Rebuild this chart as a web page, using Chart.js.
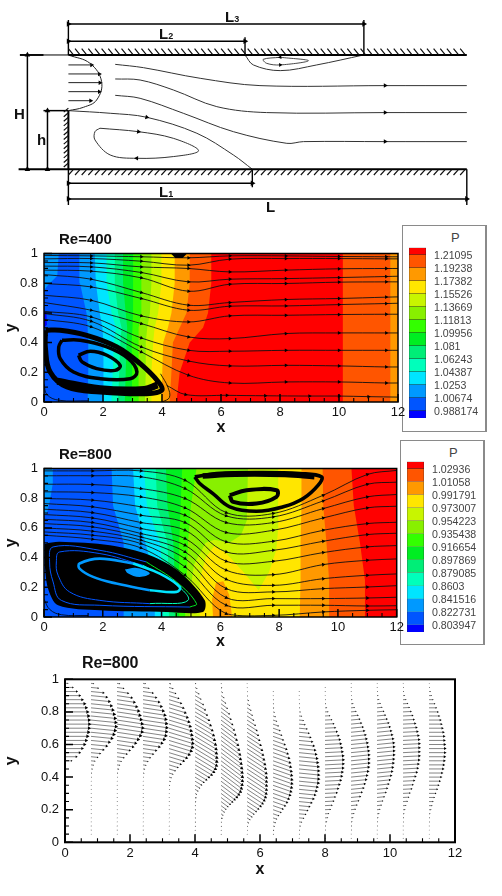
<!DOCTYPE html>
<html>
<head>
<meta charset="utf-8">
<title>Step channel flow</title>
<script src="https://cdn.jsdelivr.net/npm/chart.js@4"></script>
<style>
  html, body { margin: 0; background: #fff; }
  body { position: relative; width: 502px; height: 896px; overflow: hidden; font-family: "Liberation Sans", Arial, sans-serif; }
  canvas { position: absolute; }
  .lab { position: absolute; font-weight: bold; color: #111; line-height: 1; white-space: nowrap; }
  .lab sub { font-size: 60%; vertical-align: -20%; line-height: 0; }
  .panel { position: absolute; box-sizing: border-box; border: 1px solid #8a8a8a; border-right-width: 2px; background: #fff; }
  .ptitle { position: absolute; font-size: 13px; color: #444; line-height: 1; }
</style>
</head>
<body>

<canvas id="sketch" width="502" height="215" style="left:0;top:0"></canvas>
<div class="lab" style="left:225px;top:9px;font-size:15px">L<sub>3</sub></div>
<div class="lab" style="left:159px;top:26px;font-size:15px">L<sub>2</sub></div>
<div class="lab" style="left:159px;top:184px;font-size:15px">L<sub>1</sub></div>
<div class="lab" style="left:266px;top:199px;font-size:15px">L</div>
<div class="lab" style="left:14px;top:106px;font-size:15px">H</div>
<div class="lab" style="left:37px;top:132px;font-size:15px">h</div>

<div class="panel" style="left:402px;top:225px;width:85px;height:207px"></div>
<div class="ptitle" style="left:451px;top:231px">P</div>
<canvas id="legend400" width="76" height="182" style="left:409px;top:243px"></canvas>
<div class="lab" style="left:59px;top:231px;font-size:15px">Re=400</div>
<canvas id="plot400" width="412" height="193" style="left:0;top:244px"></canvas>

<div class="panel" style="left:400px;top:440px;width:85px;height:205px"></div>
<div class="ptitle" style="left:449px;top:446px">P</div>
<canvas id="legend800" width="76" height="180" style="left:407px;top:457px"></canvas>
<div class="lab" style="left:59px;top:446px;font-size:15px">Re=800</div>
<canvas id="plot800" width="412" height="192" style="left:0;top:459px"></canvas>

<div class="lab" style="left:82px;top:655px;font-size:16px">Re=800</div>
<canvas id="vectors" width="480" height="209" style="left:0;top:670px"></canvas>

<script>
// ---------- colour legend ----------
const bandColors = ["#ff0000", "#ff5500", "#ff9900", "#ffe600", "#c8f500", "#88f000", "#33ff00",
  "#00ee22", "#00ee77", "#00ffbb", "#00e5ff", "#0099ff", "#0055ff", "#0000ff"];
const levels400 = [1.21095, 1.19238, 1.17382, 1.15526, 1.13669, 1.11813, 1.09956, 1.081, 1.06243, 1.04387, 1.0253, 1.00674, 0.988174];
const levels800 = [1.02936, 1.01058, 0.991791, 0.973007, 0.954223, 0.935438, 0.916654, 0.897869, 0.879085, 0.8603, 0.841516, 0.822731, 0.803947];
const range400 = [0.9774, 1.2205];
const range800 = [0.7934, 1.0391];

// ---------- shared axis ticks ----------
const xMajor = [0, 2, 4, 6, 8, 10, 12];
const xMinor = [0.5, 1, 1.5, 2.5, 3, 3.5, 4.5, 5, 5.5, 6.5, 7, 7.5, 8.5, 9, 9.5, 10.5, 11, 11.5];
const yMajor = [0, 0.2, 0.4, 0.6, 0.8, 1];
const yMinor = [0.05, 0.1, 0.15, 0.25, 0.3, 0.35, 0.45, 0.5, 0.55, 0.65, 0.7, 0.75, 0.85, 0.9, 0.95];

// ---------- Re=400 pressure bands: x of each band edge at these y ----------
const edgeY400 = [0, 0.2, 0.4, 0.5, 0.6, 0.8, 1];
const edges400 = [
  [12, 12, 12, 12, 12, 12, 12],
  [11.74, 11.74, 11.74, 11.74, 11.74, 11.74, 11.74],
  [10.13, 10.13, 10.13, 10.13, 10.13, 10.13, 10.13],
  [4.49, 4.6, 4.94, 5.39, 5.56, 5.67, 5.67],
  [4.26, 4.32, 4.37, 4.6, 4.83, 4.94, 4.94],
  [3.98, 4.01, 4.04, 4.2, 4.32, 4.43, 4.43],
  [3.64, 3.64, 3.7, 3.75, 3.87, 3.98, 3.98],
  [3.42, 3.45, 3.45, 3.5, 3.59, 3.64, 3.64],
  [3.19, 3.21, 3.19, 3.22, 3.3, 3.3, 3.3],
  [2.97, 2.99, 2.97, 3.0, 3.02, 3.02, 3.02],
  [2.74, 2.77, 2.8, 2.82, 2.77, 2.68, 2.68],
  [2.51, 2.55, 2.59, 2.63, 2.51, 2.4, 2.4],
  [2.29, 2.33, 2.37, 2.44, 2.29, 2.12, 2.12],
  [2.0, 2.03, 2.0, 1.98, 1.89, 1.76, 1.72],
  [1.48, 1.5, 1.5, 1.48, 1.44, 1.22, 1.2]
];
const edgeColorIdx400 = [2, 1, 0, 1, 2, 3, 4, 5, 6, 7, 8, 9, 10, 11, 12];
const skyPatch400 = [[0, 1], [0.5, 1], [0.45, 0.85], [0.1, 0.78], [0, 0.75]];
const deepPatch400 = [[0, 0.62], [0.08, 0.6], [0.1, 0.52], [0, 0.5]];
const blackSpot400 = [[4.3, 1], [4.85, 1], [4.7, 0.97], [4.45, 0.97]];

// Re=400 streamlines, y at these x stations
const stations400 = [0, 1.6, 3.3, 4.9, 6.3, 8.2, 10, 11.6, 12];
const lines400 = [
  [0.987, 0.984, 0.978, 0.971, 0.984, 0.984, 0.98, 0.978, 0.978],
  [0.964, 0.966, 0.948, 0.921, 0.962, 0.966, 0.966, 0.964, 0.964],
  [0.939, 0.937, 0.91, 0.899, 0.876, 0.888, 0.897, 0.899, 0.899],
  [0.915, 0.91, 0.872, 0.809, 0.827, 0.831, 0.838, 0.845, 0.847],
  [0.888, 0.881, 0.836, 0.746, 0.793, 0.798, 0.807, 0.809, 0.809],
  [0.858, 0.827, 0.737, 0.652, 0.67, 0.69, 0.697, 0.706, 0.708],
  [0.798, 0.775, 0.697, 0.618, 0.645, 0.647, 0.656, 0.663, 0.665],
  [0.719, 0.685, 0.58, 0.539, 0.58, 0.584, 0.589, 0.591, 0.591],
  [0.67, 0.618, 0.528, 0.438, 0.427, 0.461, 0.465, 0.465, 0.465],
  [0.611, 0.573, 0.431, 0.348, 0.342, 0.348, 0.348, 0.348, 0.348],
  [0.596, 0.544, 0.371, 0.276, 0.243, 0.247, 0.243, 0.236, 0.236],
  [0.557, 0.506, 0.337, 0.18, 0.128, 0.135, 0.135, 0.128, 0.128]
];
const floorLine400 = [[4.16, 0.112], [4.8, 0.05], [6.2, 0.045], [7.5, 0.042], [9, 0.04], [10, 0.04], [11, 0.036], [12, 0.033]];
const cornerLine400 = [[0, 0.12], [0.1, 0.05], [0.5, 0.012], [1.5, 0.008]];
const reattach400 = [[4, 0], [4.25, 0.03], [4.2, 0.1], [3.95, 0.19]];
const vortexOuter400 = [[0.05, 0.483], [0.55, 0.483], [1.45, 0.449], [2.47, 0.371], [3.26, 0.258], [3.88, 0.135], [3.99, 0.079], [3.48, 0.056], [1.91, 0.067], [0.78, 0.101], [0.21, 0.202], [0.05, 0.36]];
const vortexFloor400 = [[0.45, 0.14], [1.9, 0.09], [3.4, 0.085], [3.85, 0.115]];
const vortexMid400 = [[0.61, 0.416], [1.23, 0.416], [2.13, 0.371], [2.86, 0.292], [3.15, 0.202], [2.92, 0.157], [1.91, 0.157], [1.0, 0.202], [0.55, 0.292], [0.5, 0.371]];
const vortexInner400 = [[1.17, 0.315], [1.57, 0.342], [2.13, 0.315], [2.58, 0.247], [2.41, 0.213], [1.79, 0.225], [1.29, 0.27]];

// ---------- Re=800 pressure bands ----------
const edgeY800 = [0, 0.25, 0.5, 0.75, 1];
const rightEdges800 = [
  [12, 12, 12, 12, 12],
  [10.92, 10.92, 10.75, 10.54, 10.46],
  [9.73, 9.7, 9.61, 9.5, 9.48],
  [8.7, 8.73, 8.73, 8.76, 8.76]
];
const rightColorIdx800 = [0, 1, 2, 3];
const orangePatch800 = [[5.75, 0], [5.72, 0.12], [5.85, 0.23], [6.1, 0.24], [6.3, 0.15], [6.4, 0]];
const yellowGreenLobe800 = [[7.97, 1], [7.97, 0.6], [7.9, 0.45], [7.65, 0.3], [7.3, 0.18], [6.8, 0.3], [6.2, 0.43], [5.8, 0.48], [5.5, 0.4], [5.3, 0.25], [5.3, 0], [0, 0], [0, 1]];
const lightGreenLobe800 = [[6.94, 1], [6.9, 0.65], [6.7, 0.55], [6.3, 0.5], [5.8, 0.52], [5.5, 0.5], [5.1, 0.35], [5, 0.2], [4.95, 0], [0, 0], [0, 1]];
const leftEdges800 = [
  [4.8, 4.85, 4.9, 5.0, 5.19],
  [4.6, 4.6, 4.6, 4.65, 4.7],
  [4.45, 4.45, 4.4, 4.2, 4.15],
  [4.25, 4.25, 4.2, 3.85, 3.8],
  [4.05, 4.05, 3.95, 3.5, 3.4],
  [3.77, 3.77, 3.45, 3.1, 3.03],
  [2.69, 2.7, 2.72, 2.35, 2.3]
];
const leftColorIdx800 = [6, 7, 8, 9, 10, 11, 12];
const skyPatch800 = [[0, 1], [0.3, 1], [0.3, 0.9], [0.2, 0.78], [0.1, 0.7], [0, 0.68]];

// Re=800 streamlines
const stations800 = [0, 1.65, 3.3, 4.8, 6.2, 7.8, 9.5, 11, 12];
const lines800 = [
  [0.984, 0.984, 0.984, 0.921, 0.703, 0.697, 0.82, 0.96, 0.987],
  [0.951, 0.951, 0.944, 0.865, 0.681, 0.674, 0.782, 0.894, 0.908],
  [0.894, 0.892, 0.865, 0.798, 0.636, 0.636, 0.73, 0.809, 0.825],
  [0.843, 0.838, 0.809, 0.735, 0.569, 0.584, 0.667, 0.735, 0.746],
  [0.798, 0.787, 0.742, 0.685, 0.506, 0.51, 0.584, 0.629, 0.638],
  [0.764, 0.742, 0.685, 0.636, 0.438, 0.449, 0.51, 0.555, 0.564],
  [0.726, 0.703, 0.636, 0.584, 0.375, 0.375, 0.434, 0.472, 0.481],
  [0.69, 0.667, 0.596, 0.528, 0.315, 0.285, 0.353, 0.382, 0.391],
  [0.658, 0.636, 0.562, 0.483, 0.254, 0.213, 0.258, 0.281, 0.29],
  [0.629, 0.607, 0.539, 0.438, 0.191, 0.169, 0.191, 0.202, 0.211],
  [0.6, 0.578, 0.517, 0.393, 0.13, 0.124, 0.124, 0.128, 0.133],
  [0.573, 0.551, 0.494, 0.337, 0.079, 0.079, 0.079, 0.074, 0.076],
  [0.551, 0.524, 0.465, 0.281, 0.022, 0.011, 0.034, 0.045, 0.049]
];
const cornerLine800 = [[0, 0.12], [0.2, 0.05], [0.6, 0.015], [1.5, 0.01]];
const lowerBlob800 = [[0.02, 0.494], [0.53, 0.506], [2.24, 0.483], [3.6, 0.416], [4.62, 0.303], [5.47, 0.112], [5.41, 0.034], [4.17, 0.034], [1.9, 0.045], [0.48, 0.079], [0.14, 0.191], [0.02, 0.371]];
const ringALeft800 = [[4.96, 0.067], [1.9, 0.079], [0.59, 0.112], [0.31, 0.236], [0.19, 0.371], [0.31, 0.472], [1.9, 0.449], [3.48, 0.371]];
const ringARight800 = [[3.48, 0.371], [4.51, 0.236], [5.19, 0.09], [4.96, 0.067]];
const ringBLeft800 = [[3.6, 0.09], [1.9, 0.112], [0.87, 0.169], [0.48, 0.281], [0.42, 0.371], [0.53, 0.438], [1.9, 0.427], [3.37, 0.348]];
const ringBRight800 = [[3.37, 0.348], [4.39, 0.236], [4.9, 0.112], [3.6, 0.09]];
const ringCLeft800 = [[3.6, 0.18], [2.46, 0.225], [1.67, 0.27], [1.21, 0.326], [1.21, 0.36], [1.9, 0.393], [3.03, 0.36]];
const ringCRight800 = [[3.03, 0.36], [3.94, 0.292], [4.62, 0.202], [4.51, 0.169], [3.6, 0.18]];
const lowerCore800 = [[2.75, 0.32], [3.15, 0.33], [3.6, 0.295], [3.25, 0.27], [2.85, 0.295]];
const upperOuter800 = [[5.13, 0.944], [5.87, 0.966], [7.34, 0.973], [8.71, 0.966], [9.44, 0.944], [9.33, 0.888], [8.82, 0.798], [8.14, 0.742], [7.23, 0.712], [6.32, 0.742], [5.75, 0.831], [5.3, 0.899]];
const upperTop800 = [[5.4, 0.95], [6.5, 0.962], [8.2, 0.96], [9.2, 0.945]];
const upperInner800 = [[6.32, 0.82], [6.89, 0.854], [7.91, 0.854], [7.91, 0.809], [7.23, 0.764], [6.44, 0.775]];

// ---------- Re=800 velocity profiles ----------
const profileX = [0, 0.8, 1.6, 2.4, 3.2, 4, 4.8, 5.6, 6.4, 7.2, 8, 8.8, 9.6, 10.4, 11.2];
const profileRows = [0.975, 0.95, 0.925, 0.9, 0.875, 0.85, 0.825, 0.8, 0.775, 0.75, 0.725, 0.7, 0.675, 0.65, 0.625, 0.6, 0.575, 0.55, 0.525, 0.5,
  0.475, 0.45, 0.425, 0.4, 0.375, 0.35, 0.325, 0.3, 0.275, 0.25, 0.225, 0.2, 0.175, 0.15, 0.125, 0.1, 0.075, 0.05, 0.025];
const profileU = [
  [0.09, 0.24, 0.36, 0.45, 0.53, 0.6, 0.65, 0.69, 0.72, 0.74, 0.75, 0.74, 0.72, 0.69, 0.65, 0.6, 0.53, 0.45, 0.35, 0.2],
  [0.08, 0.22, 0.38, 0.48, 0.56, 0.62, 0.67, 0.71, 0.74, 0.76, 0.77, 0.74, 0.7, 0.64, 0.56, 0.48, 0.38, 0.28, 0.2, 0.12, 0.07, 0.04, 0.02, 0.01, 0.005, 0.005, 0.005, 0.005, 0.005, 0.005, 0.005, 0.005, 0.005, 0.005, 0.005, 0.005, 0.005, 0.005],
  [0.08, 0.2, 0.34, 0.45, 0.53, 0.6, 0.66, 0.7, 0.74, 0.77, 0.79, 0.77, 0.72, 0.65, 0.57, 0.49, 0.39, 0.3, 0.21, 0.13, 0.08, 0.05, 0.02, 0.01, 0.005, 0.005, 0.005, 0.005, 0.005, 0.005, 0.005, 0.005, 0.005, 0.005, 0.005, 0.005, 0.005, 0.005],
  [0.07, 0.18, 0.3, 0.4, 0.49, 0.56, 0.62, 0.67, 0.7, 0.72, 0.73, 0.72, 0.7, 0.65, 0.58, 0.5, 0.4, 0.31, 0.22, 0.15, 0.09, 0.05, 0.03, 0.01, 0.005, 0.005, 0.005, 0.005, 0.005, 0.005, 0.005, 0.005, 0.005, 0.005, 0.005, 0.005, 0.005, 0.005],
  [0.05, 0.12, 0.2, 0.29, 0.37, 0.44, 0.5, 0.56, 0.61, 0.65, 0.68, 0.7, 0.72, 0.73, 0.72, 0.68, 0.62, 0.54, 0.45, 0.36, 0.27, 0.19, 0.12, 0.07, 0.04, 0.02, 0.01, 0.005, 0.005, 0.005, 0.005, 0.005, 0.005, 0.005, 0.005, 0.005, 0.005, 0.005],
  [0.02, 0.06, 0.12, 0.18, 0.25, 0.31, 0.37, 0.43, 0.48, 0.53, 0.57, 0.6, 0.63, 0.65, 0.66, 0.67, 0.67, 0.66, 0.63, 0.58, 0.51, 0.43, 0.35, 0.27, 0.2, 0.14, 0.09, 0.05, 0.03, 0.02, 0.01, 0.01, 0.01, 0.01, 0.01, 0.01, 0.005, 0.005],
  [0.005, 0.02, 0.05, 0.09, 0.14, 0.19, 0.25, 0.3, 0.35, 0.4, 0.44, 0.48, 0.52, 0.55, 0.58, 0.6, 0.62, 0.64, 0.65, 0.66, 0.66, 0.65, 0.63, 0.6, 0.55, 0.49, 0.42, 0.35, 0.28, 0.21, 0.15, 0.1, 0.06, 0.03, 0.01, 0.01, 0.005, 0.005],
  [0.002, 0.005, 0.01, 0.02, 0.05, 0.08, 0.12, 0.16, 0.2, 0.25, 0.3, 0.34, 0.38, 0.42, 0.46, 0.49, 0.52, 0.55, 0.57, 0.59, 0.6, 0.6, 0.6, 0.6, 0.59, 0.57, 0.53, 0.48, 0.42, 0.35, 0.28, 0.21, 0.15, 0.09, 0.05, 0.02, 0.01, 0.005],
  [0, 0, 0.005, 0.005, 0.01, 0.01, 0.02, 0.04, 0.07, 0.11, 0.16, 0.21, 0.26, 0.31, 0.36, 0.41, 0.45, 0.49, 0.52, 0.54, 0.56, 0.57, 0.58, 0.58, 0.57, 0.55, 0.52, 0.48, 0.43, 0.37, 0.3, 0.24, 0.17, 0.11, 0.07, 0.04, 0.02, 0.01],
  [0, 0, 0.005, 0.005, 0.005, 0.01, 0.02, 0.04, 0.08, 0.13, 0.18, 0.24, 0.3, 0.35, 0.4, 0.45, 0.49, 0.52, 0.55, 0.57, 0.59, 0.6, 0.6, 0.6, 0.59, 0.56, 0.53, 0.49, 0.44, 0.38, 0.32, 0.26, 0.2, 0.14, 0.08, 0.04, 0.02, 0.01, 0.005],
  [0, 0.005, 0.005, 0.005, 0.01, 0.02, 0.05, 0.09, 0.14, 0.2, 0.26, 0.31, 0.36, 0.41, 0.45, 0.48, 0.51, 0.53, 0.55, 0.56, 0.56, 0.55, 0.53, 0.51, 0.48, 0.44, 0.4, 0.36, 0.31, 0.26, 0.21, 0.16, 0.11, 0.08, 0.05, 0.02, 0.01, 0.005, 0.005],
  [0.005, 0.005, 0.005, 0.01, 0.03, 0.06, 0.1, 0.15, 0.21, 0.26, 0.31, 0.36, 0.4, 0.44, 0.47, 0.5, 0.52, 0.54, 0.55, 0.55, 0.55, 0.54, 0.52, 0.49, 0.46, 0.42, 0.38, 0.33, 0.28, 0.23, 0.18, 0.13, 0.09, 0.06, 0.03, 0.02, 0.01, 0.005, 0.005],
  [0.005, 0.005, 0.01, 0.03, 0.06, 0.1, 0.15, 0.2, 0.25, 0.3, 0.35, 0.39, 0.43, 0.46, 0.49, 0.51, 0.52, 0.52, 0.52, 0.51, 0.5, 0.48, 0.46, 0.43, 0.39, 0.35, 0.31, 0.27, 0.22, 0.17, 0.13, 0.09, 0.06, 0.03, 0.02, 0.01, 0.005, 0.005, 0.005],
  [0.005, 0.01, 0.02, 0.05, 0.09, 0.14, 0.19, 0.24, 0.29, 0.33, 0.37, 0.41, 0.44, 0.47, 0.49, 0.5, 0.5, 0.5, 0.5, 0.49, 0.47, 0.45, 0.42, 0.38, 0.34, 0.3, 0.26, 0.21, 0.17, 0.13, 0.09, 0.06, 0.03, 0.02, 0.01, 0.005, 0.005, 0.005, 0.005],
  [0.005, 0.01, 0.04, 0.07, 0.12, 0.17, 0.22, 0.27, 0.31, 0.35, 0.38, 0.41, 0.44, 0.46, 0.47, 0.48, 0.49, 0.49, 0.48, 0.47, 0.45, 0.43, 0.4, 0.37, 0.33, 0.29, 0.25, 0.2, 0.16, 0.12, 0.09, 0.06, 0.03, 0.02, 0.01, 0.005, 0.005, 0.005, 0.005]
];
const profileSlope = [0, 0.02, 0.03, 0.03, 0.06, 0.12, 0.15, 0.13, 0.07, 0.02, -0.01, -0.02, -0.02, -0.01, 0];

// ---------- channel sketch, x along the channel with L = 12 and H = 1 ----------
const wallTop = [[0, 1], [12, 1]];
const wallInletTop = [[-1.46, 1], [0, 1]];
const wallInletTopThick = [[-1.46, 1], [-0.75, 1]];
const wallBottom = [[-1.5, 0], [12, 0]];
const wallStep = [[0, 0.513], [0, 0]];
const wallStepTop = [[-0.75, 0.513], [0, 0.513]];
const inletProfile = [[0, 1], [0.65, 0.927], [1.0, 0.767], [0.85, 0.606], [0.45, 0.542], [0, 0.513]];
const inletArrowY = [0.913, 0.834, 0.758, 0.679, 0.6];
const inletArrowU = [0.7, 0.93, 0.95, 0.93, 0.67];
const sketchLine1 = [[1.41, 0.918], [2.26, 0.889], [3.97, 0.796], [5.77, 0.732], [9.54, 0.732], [12, 0.732]];
const sketchLine2 = [[1.41, 0.79], [2.16, 0.781], [3.16, 0.694], [4.47, 0.548], [5.97, 0.496], [9.54, 0.496], [12, 0.496]];
const sketchLine3 = [[1.41, 0.647], [2.16, 0.621], [3.46, 0.49], [4.97, 0.329], [6.58, 0.227], [7.08, 0.242], [9.54, 0.242], [12, 0.242]];
const sketchSep = [[0, 0.513], [1.26, 0.49], [2.36, 0.455], [3.87, 0.315], [4.97, 0.125], [5.54, 0]];
const sketchLoop = [[0.95, 0.359], [2.11, 0.329], [3.16, 0.271], [3.92, 0.163], [3.16, 0.111], [2.06, 0.096], [1.26, 0.125], [0.8, 0.257], [0.8, 0.329], [0.95, 0.359]];
const sketchUpperSep = [[5.32, 1], [5.57, 0.913], [6.38, 0.863], [7.48, 0.913], [8.89, 1]];
const sketchUpperLoop = [[6.38, 0.98], [5.87, 0.962], [5.97, 0.927], [6.38, 0.913], [7.23, 0.95], [6.38, 0.98]];
const dimL1 = [[0, -0.122], [5.54, -0.122]];
const dimL2 = [[0, 1.12], [5.32, 1.12]];
const dimL3 = [[0, 1.271], [8.9, 1.271]];
const dimL = [[0, -0.259], [12, -0.259]];
const dimH = [[-1.235, 0], [-1.235, 1]];
const dimh = [[-0.63, 0], [-0.63, 0.513]];
const extensions = [
  [[0, 1.306], [0, 1]], [[8.9, 1.306], [8.9, 1]], [[5.32, 1.155], [5.32, 1]],
  [[5.54, 0], [5.54, -0.157]], [[0, 0], [0, -0.312]], [[12, 0], [12, -0.312]]
];

// ---------- helpers ----------
const toPts = arr => arr.map(p => ({ x: p[0], y: p[1] }));
const closed = arr => toPts(arr.concat([arr[0]]));

// Chart.js pads the chart area for the first and last tick label even with autoPadding off
function noScalePadding(s) {
  s.paddingTop = 0;
  s.paddingBottom = 0;
  s.paddingLeft = 0;
  s.paddingRight = 0;
}

function arrowAngle(ctx) {
  const d = ctx.dataset.data, i = ctx.dataIndex;
  const ok = p => p && Number.isFinite(p.x);
  const a = ok(d[i - 1]) ? d[i - 1] : d[i];
  const b = ok(d[i + 1]) ? d[i + 1] : d[i];
  const sx = ctx.chart.scales.x, sy = ctx.chart.scales.y;
  if (!a || !b) return 0;
  const dx = sx.getPixelForValue(b.x) - sx.getPixelForValue(a.x);
  const dy = sy.getPixelForValue(b.y) - sy.getPixelForValue(a.y);
  return Math.atan2(dx, -dy) * 180 / Math.PI;
}

function shape(points, color) {
  return { data: points, showLine: true, fill: "shape", backgroundColor: color, borderWidth: 0, pointRadius: 0 };
}
function leftOfEdge(xs, ys, color) {
  const pts = ys.map((y, i) => ({ x: xs[i], y: y }));
  pts.push({ x: 0, y: 1 }, { x: 0, y: 0 });
  return shape(pts, color);
}
function stroke(points, width, color, tension) {
  return { data: points, showLine: true, borderColor: color || "#000", borderWidth: width, tension: tension === undefined ? 0.4 : tension, pointRadius: 0, fill: false };
}
// a curve with an arrowhead on the vertices given by arrowAt (all inner ones when omitted)
function arrowed(points, width, size, arrowAt, color) {
  const last = points.length - 1;
  return {
    data: points, showLine: true, borderColor: color || "#111", borderWidth: width, tension: 0.35, fill: false,
    pointStyle: "triangle", pointBackgroundColor: "#000", pointBorderWidth: 0,
    pointRotation: arrowAngle,
    pointRadius: ctx => {
      if (arrowAt) return arrowAt.includes(ctx.dataIndex) ? size : 0;
      return ctx.dataIndex > 0 && ctx.dataIndex < last ? size : 0;
    }
  };
}
function streamline(xs, ys) {
  return arrowed(ys.map((y, i) => ({ x: xs[i], y: y })), 0.9, 2.2);
}

// frame and inward Tecplot style ticks, placed through the scales
const frameTicks = {
  id: "frameTicks",
  afterDatasetsDraw(chart, args, opts) {
    const c = chart.ctx, a = chart.chartArea, sx = chart.scales.x, sy = chart.scales.y;
    c.save();
    c.strokeStyle = "#000";
    c.lineWidth = 1.1;
    c.beginPath();
    xMinor.forEach(v => { const p = sx.getPixelForValue(v); c.moveTo(p, a.bottom); c.lineTo(p, a.bottom - 4); });
    yMinor.forEach(v => { const p = sy.getPixelForValue(v); c.moveTo(a.left, p); c.lineTo(a.left + 4, p); });
    c.stroke();
    c.lineWidth = 1.5;
    c.beginPath();
    xMajor.forEach(v => { const p = sx.getPixelForValue(v); c.moveTo(p, a.bottom); c.lineTo(p, a.bottom - 8); });
    yMajor.forEach(v => { const p = sy.getPixelForValue(v); c.moveTo(a.left, p); c.lineTo(a.left + 8, p); });
    c.stroke();
    c.lineWidth = opts.width;
    c.strokeRect(a.left, a.top, a.right - a.left, a.bottom - a.top);
    c.restore();
  }
};

function plotOptions(left, bottom, top, right, frameWidth) {
  const tickFont = { family: "'Liberation Sans'", size: 13 };
  const axisFont = { family: "'Liberation Sans'", size: 16, weight: "bold" };
  return {
    responsive: false, animation: false, events: [],
    layout: { autoPadding: false, padding: { top: top, right: right, left: 0, bottom: 0 } },
    plugins: { legend: { display: false }, tooltip: { enabled: false }, frameTicks: { width: frameWidth } },
    scales: {
      x: {
        type: "linear", min: 0, max: 12,
        afterFit: s => { s.height = bottom; noScalePadding(s); },
        grid: { display: false, drawTicks: false }, border: { display: false },
        ticks: { stepSize: 2, font: tickFont, color: "#111", padding: 3, maxRotation: 0 },
        title: { display: true, text: "x", font: axisFont, color: "#111", padding: 0 }
      },
      y: {
        type: "linear", min: 0, max: 1,
        afterFit: s => { s.width = left; noScalePadding(s); },
        grid: { display: false, drawTicks: false }, border: { display: false },
        ticks: { stepSize: 0.2, font: tickFont, color: "#111", padding: 6, callback: v => String(+v.toFixed(1)) },
        title: { display: true, text: "y", font: axisFont, color: "#111", padding: { top: 2, bottom: 0 } }
      }
    }
  };
}

function drawPlot(id, datasets, opts) {
  // dataset 0 is drawn last by Chart.js, so flip the paint order
  new Chart(document.getElementById(id), {
    type: "scatter",
    data: { datasets: datasets.slice().reverse() },
    options: opts,
    plugins: [frameTicks]
  });
}

function drawLegend(id, levels, range, top, bottom) {
  const edges = [range[1]].concat(levels, [range[0]]);
  new Chart(document.getElementById(id), {
    type: "bar",
    data: {
      labels: ["P"],
      datasets: bandColors.map((color, i) => ({
        data: [[edges[i + 1], edges[i]]],
        backgroundColor: color, borderColor: "#222", borderWidth: 0.6,
        grouped: false, barPercentage: 1, categoryPercentage: 1
      }))
    },
    options: {
      responsive: false, animation: false, events: [],
      layout: { autoPadding: false, padding: { top: top, bottom: bottom } },
      plugins: { legend: { display: false }, tooltip: { enabled: false } },
      scales: {
        x: { type: "category", display: false },
        y: {
          type: "linear", position: "right", min: range[0], max: range[1],
          afterFit: s => { s.width = 59; noScalePadding(s); },
          afterBuildTicks: s => { s.ticks = levels.map(v => ({ value: v })); },
          grid: { display: false, drawTicks: false }, border: { display: false },
          ticks: { autoSkip: false, padding: 8, labelOffset: 1.3, font: { family: "'Liberation Sans'", size: 10.6 }, color: "#444", callback: v => String(v) }
        }
      }
    }
  });
}

// ---------- Re=400 ----------
const ds400 = [];
edges400.forEach((xs, i) => ds400.push(leftOfEdge(xs, edgeY400, bandColors[edgeColorIdx400[i]])));
ds400.push(shape(toPts(skyPatch400), bandColors[11]));
ds400.push(shape(toPts(deepPatch400), bandColors[13]));
lines400.forEach(ys => ds400.push(streamline(stations400, ys)));
ds400.push(arrowed(toPts(floorLine400), 0.9, 2.2));
ds400.push(stroke(toPts(cornerLine400), 0.8));
ds400.push(stroke(toPts(reattach400), 0.8));
ds400.push(stroke(closed(vortexOuter400), 5));
ds400.push(stroke(toPts(vortexFloor400), 7));
ds400.push(stroke(closed(vortexMid400), 3.5));
ds400.push(stroke(closed(vortexInner400), 3.5));
ds400.push(shape(toPts(blackSpot400), "#000"));
drawPlot("plot400", ds400, plotOptions(44, 35, 9.5, 14, 1.5));

// ---------- Re=800 ----------
const ds800 = [];
rightEdges800.forEach((xs, i) => ds800.push(leftOfEdge(xs, edgeY800, bandColors[rightColorIdx800[i]])));
ds800.push(shape(toPts(orangePatch800), bandColors[2]));
ds800.push(shape(toPts(yellowGreenLobe800), bandColors[4]));
ds800.push(shape(toPts(lightGreenLobe800), bandColors[5]));
leftEdges800.forEach((xs, i) => ds800.push(leftOfEdge(xs, edgeY800, bandColors[leftColorIdx800[i]])));
ds800.push(shape(toPts(skyPatch800), bandColors[11]));
lines800.forEach(ys => ds800.push(streamline(stations800, ys)));
ds800.push(stroke(toPts(cornerLine800), 0.8));
ds800.push(shape(closed(lowerBlob800), "#000"));
ds800[ds800.length - 1].tension = 0.3;
ds800.push(stroke(toPts(ringALeft800), 1, bandColors[12]));
ds800.push(stroke(toPts(ringARight800), 1, bandColors[7]));
ds800.push(stroke(toPts(ringBLeft800), 1, bandColors[12]));
ds800.push(stroke(toPts(ringBRight800), 1, bandColors[9]));
ds800.push(stroke(toPts(ringCLeft800), 2.6, bandColors[11]));
ds800.push(stroke(toPts(ringCRight800), 2.6, bandColors[10]));
ds800.push(shape(closed(lowerCore800), bandColors[11]));
ds800[ds800.length - 1].tension = 0.4;
ds800.push(stroke(closed(upperOuter800), 3.6));
ds800.push(stroke(toPts(upperTop800), 5.5));
ds800.push(stroke(closed(upperInner800), 4));
drawPlot("plot800", ds800, plotOptions(44, 34, 9.5, 15.3, 1.5));

// ---------- velocity profiles, one gapped dataset per station ----------
const dsVec = profileU.map((us, s) => {
  const pts = [];
  us.forEach((u, r) => {
    if (u <= 0) return;
    const y = profileRows[r];
    pts.push({ x: profileX[s], y: y }, { x: profileX[s] + u, y: y - u * profileSlope[s] }, { x: NaN, y: NaN });
  });
  return {
    data: pts, showLine: true, borderColor: "#333", borderWidth: 0.6, fill: false,
    pointStyle: "triangle", pointBackgroundColor: "#000", pointBorderWidth: 0,
    pointRotation: arrowAngle,
    pointRadius: ctx => {
      if (ctx.dataIndex % 3 !== 1) return 0;
      const d = ctx.dataset.data, p = d[ctx.dataIndex], t = d[ctx.dataIndex - 1];
      return Math.min(2.2, 0.5 + (p.x - t.x) * 2.4);
    }
  };
});
drawPlot("vectors", dsVec, plotOptions(65, 36.7, 9.3, 25, 2));

// ---------- colour legends ----------
drawLegend("legend400", levels400, range400, 4.7, 7);
drawLegend("legend800", levels800, range800, 4.7, 5);

// ---------- channel sketch ----------
const hatch = [];
for (let x = 0; x < 11.9; x += 0.2) {
  hatch.push({ x: x, y: 1.055 }, { x: x + 0.14, y: 1.005 }, { x: NaN, y: NaN });
  hatch.push({ x: x, y: -0.05 }, { x: x + 0.14, y: -0.005 }, { x: NaN, y: NaN });
}
for (let y = 0.02; y < 0.5; y += 0.04) {
  hatch.push({ x: -0.14, y: y }, { x: 0, y: y + 0.035 }, { x: NaN, y: NaN });
}
const dim = arr => {
  const d = arrowed(toPts(arr), 1.5, 3.2, [0, 1], "#000");
  d.tension = 0;
  return d;
};
const dsSketch = [
  stroke(hatch, 1.2, "#111", 0),
  stroke(toPts(wallTop), 2, "#000", 0),
  stroke(toPts(wallInletTop), 1, "#000", 0),
  stroke(toPts(wallInletTopThick), 1.8, "#000", 0),
  stroke(toPts(wallBottom), 2, "#000", 0),
  stroke(toPts(wallStep), 2, "#000", 0),
  stroke(toPts(wallStepTop), 1.5, "#000", 0),
  stroke(toPts(inletProfile), 1, "#222"),
  arrowed(toPts(sketchLine1), 1, 2.6, [4], "#333"),
  arrowed(toPts(sketchLine2), 1, 2.6, [5], "#333"),
  arrowed(toPts(sketchLine3), 1, 2.6, [6], "#333"),
  arrowed(toPts(sketchSep), 1, 2.6, [2], "#333"),
  arrowed(toPts(sketchLoop), 1, 2.6, [1, 5], "#333"),
  arrowed(toPts(sketchUpperSep), 1, 0, [], "#333"),
  arrowed(toPts(sketchUpperLoop), 0.9, 2.2, [0, 3], "#333"),
  dim(dimL1), dim(dimL2), dim(dimL3), dim(dimL), dim(dimH), dim(dimh)
];
inletArrowY.forEach((y, i) => {
  const d = arrowed(toPts([[0, y], [inletArrowU[i], y]]), 1, 2.6, [1], "#222");
  d.tension = 0;
  dsSketch.push(d);
});
extensions.forEach(e => dsSketch.push(stroke(toPts(e), 1.4, "#000", 0)));

new Chart(document.getElementById("sketch"), {
  type: "scatter",
  data: { datasets: dsSketch },
  options: {
    responsive: false, animation: false, events: [],
    layout: { autoPadding: false, padding: 0 },
    plugins: { legend: { display: false }, tooltip: { enabled: false } },
    scales: {
      x: { type: "linear", display: false, min: -2.06, max: 13.06 },
      y: { type: "linear", display: false, min: -0.4, max: 1.481 }
    }
  }
});
</script>
</body>
</html>
